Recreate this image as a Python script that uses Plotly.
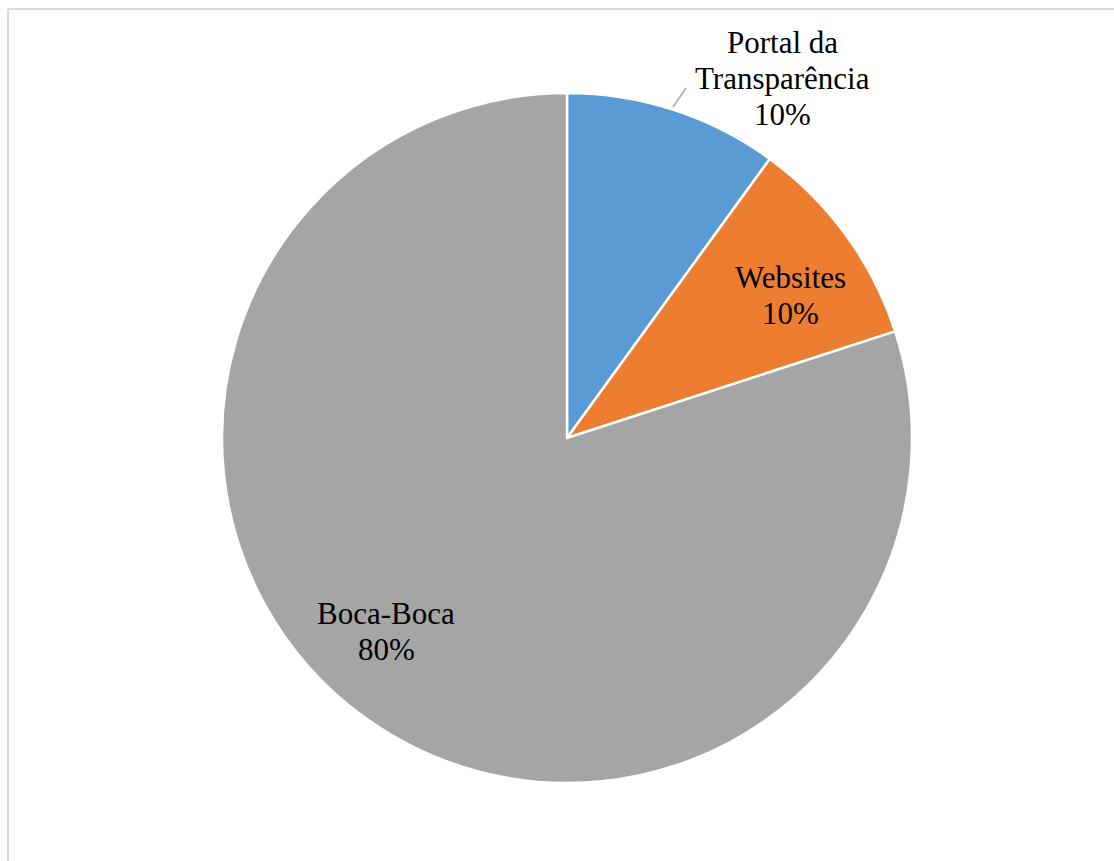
import plotly.graph_objects as go

labels = ["Portal da Transparência", "Websites", "Boca-Boca"]
values = [10, 10, 80]
colors = ["#5B9BD5", "#ED7D31", "#A5A5A5"]

W, H = 1114, 861

def px(x):
    return x / W

def py(y):
    return 1 - y / H

fig = go.Figure(go.Pie(
    labels=labels,
    values=values,
    sort=False,
    direction="clockwise",
    rotation=0,
    marker=dict(colors=colors, line=dict(color="white", width=2.5)),
    textinfo="none",
    hoverinfo="label+percent",
    showlegend=False,
    domain=dict(x=[px(222), px(912)], y=[py(783), py(93)]),
))

total = sum(values)
# (center x, first line y) of each data label
label_pos = [(782, 42), (790, 277), (386, 613)]
line_gap = 36
font = dict(family="Liberation Serif", size=31, color="black")
for lab, val, (x, y) in zip(labels, values, label_pos):
    if lab.startswith("Portal"):
        lines = ["Portal da", "Transparência"]
    else:
        lines = [lab]
    lines.append(f"{round(val / total * 100)}%")
    for i, line in enumerate(lines):
        fig.add_annotation(
            x=px(x), y=py(y + i * line_gap), xref="paper", yref="paper",
            text=line, showarrow=False, font=font, align="center",
            xanchor="center", yanchor="middle",
        )

shapes = [
    # leader line for Portal da Transparência
    dict(type="line", xref="paper", yref="paper", x0=px(673), y0=py(107), x1=px(686), y1=py(88),
         line=dict(color="#A6A6A6", width=1.5)),
    # chart area border (top and left visible)
    dict(type="line", xref="paper", yref="paper", x0=px(8), y0=py(9), x1=1.0, y1=py(9),
         line=dict(color="#D9D9D9", width=2)),
    dict(type="line", xref="paper", yref="paper", x0=px(8), y0=py(9), x1=px(8), y1=0.0,
         line=dict(color="#D9D9D9", width=2)),
]

fig.update_layout(
    width=W, height=H,
    margin=dict(l=0, r=0, t=0, b=0),
    paper_bgcolor="white",
    plot_bgcolor="white",
    shapes=shapes,
)

fig.write_html(
    "out.html",
    config={"displayModeBar": False},
    post_script="document.body.style.margin='0';document.body.style.overflow='hidden';",
)
